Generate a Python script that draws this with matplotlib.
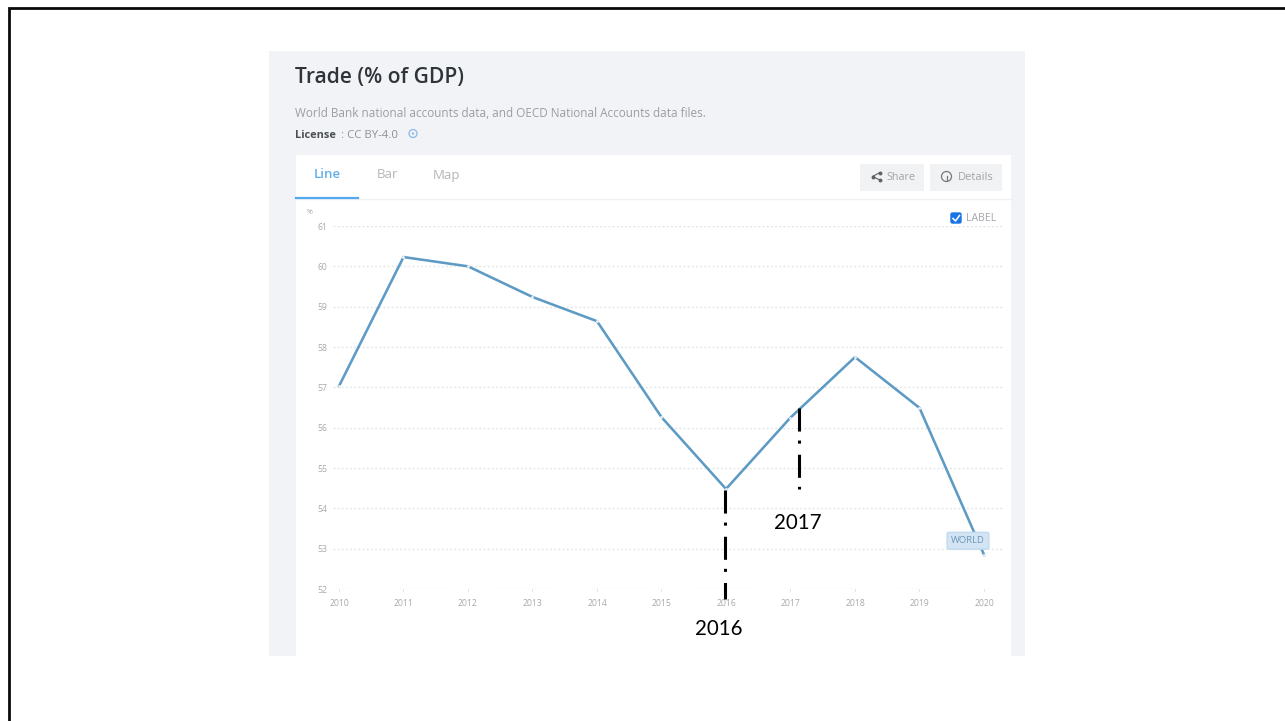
import matplotlib
matplotlib.use("Agg")
import matplotlib.pyplot as plt
from matplotlib.lines import Line2D
from matplotlib.patches import Rectangle, FancyBboxPatch, Circle

years = [2010, 2011, 2012, 2013, 2014, 2015, 2016, 2017, 2018, 2019, 2020]
trade_pct_gdp = [57.03, 60.23, 60.0, 59.24, 58.64, 56.26, 54.48, 56.25, 57.75, 56.49, 52.85]
y_ticks = [52, 53, 54, 55, 56, 57, 58, 59, 60, 61]
callout_years = ["2016", "2017"]

W, H = 1285, 721
plt.rcParams["font.family"] = ["Open Sans", "DejaVu Sans"]
plt.rcParams["lines.scale_dashes"] = False
fig = plt.figure(figsize=(W / 100, H / 100), dpi=100, facecolor="white")

# Page layer, addressed in pixels from the top left
page = fig.add_axes([0, 0, 1, 1], zorder=0)
page.set_xlim(0, W)
page.set_ylim(H, 0)
page.axis("off")

# Slide frame: left and top edges only
page.add_line(Line2D([8.9, 8.9, W], [H, 8.2, 8.2], color="#0a0a0a", lw=2.0, solid_joinstyle="miter"))

# Widget background and card
page.add_patch(Rectangle((269, 51), 756, 605, fc="#f1f3f7", ec="none"))
page.add_patch(Rectangle((296, 155), 715, 501, fc="white", ec="none"))
page.add_line(Line2D([296, 1011], [198.5, 198.5], color="#eef0f3", lw=1))
page.add_line(Line2D([296, 358], [197.5, 197.5], color="#55aaee", lw=1.6))

page.text(295, 83, "Trade (% of GDP)", fontsize=15.1, weight=600, color="#2e3438", va="baseline")
page.text(295, 117, "World Bank national accounts data, and OECD National Accounts data files.",
          fontsize=8.5, color="#9a9ea3", va="baseline")
page.text(295, 138, "License", fontsize=7.9, weight="bold", color="#4a4f54", va="baseline")
page.text(341, 138, ": CC BY-4.0", fontsize=8.2, color="#8d9196", va="baseline")
page.add_patch(Circle((413, 133.5), 4, fc="none", ec="#8db8e8", lw=0.9))
page.add_patch(Circle((413, 133.5), 1.2, fc="#8db8e8", ec="none"))

page.text(327, 178.5, "Line", fontsize=9.5, weight=600, color="#62aeea", va="baseline", ha="center")
page.text(387, 178.5, "Bar", fontsize=9.5, color="#b2b5b8", va="baseline", ha="center")
page.text(446, 178.5, "Map", fontsize=9.5, color="#b2b5b8", va="baseline", ha="center")

# Toolbar buttons
page.add_patch(Rectangle((860, 164), 64, 27, fc="#f1f2f4", ec="none"))
page.add_patch(Rectangle((930, 164), 72, 27, fc="#f1f2f4", ec="none"))
page.add_line(Line2D([880, 872.5, 880], [172.5, 176.5, 180], color="#5e6266", lw=0.8,
                     marker="o", markersize=1.8))
page.text(886, 180, "Share", fontsize=7.8, color="#a0a3a6", va="baseline")
page.add_patch(Circle((946.5, 176.5), 5, fc="none", ec="#75787c", lw=0.9))
page.add_line(Line2D([946.5, 946.5], [175.5, 179.5], color="#75787c", lw=0.9))
page.text(958, 180, "Details", fontsize=8.0, color="#a0a3a6", va="baseline")

# LABEL checkbox
page.add_patch(FancyBboxPatch((951, 213), 10, 10, boxstyle="round,pad=0,rounding_size=1.5",
                              fc="#1873e6", ec="#1873e6", lw=1))
page.add_line(Line2D([953, 955.5, 959.5], [218.5, 221, 215.5], color="white", lw=1.1))
page.text(966, 221, "LABEL", fontsize=7.6, color="#a3a6a9", va="baseline")
page.text(310, 212, "%", fontsize=5, color="#a8a8a8", va="center", ha="center")

# Line chart layer
left, right, top, bottom = 333, 1003, 226, 589
x_per_year = (984 - 339) / 10
chart = fig.add_axes([left / W, 1 - bottom / H, (right - left) / W, (bottom - top) / H],
                     zorder=1, facecolor="none")
chart.set_xlim(2010 + (left - 339) / x_per_year, 2010 + (right - 339) / x_per_year)
chart.set_ylim(52, 61)
for spine in chart.spines.values():
    spine.set_visible(False)
chart.set_xticks(years, [str(y) for y in years])
chart.set_yticks(y_ticks)
chart.tick_params(axis="x", length=1.5, width=0.5, color="#c9c9c9", labelsize=6.2,
                  labelcolor="#a9a9a9", pad=6)
chart.tick_params(axis="y", length=0, labelsize=6.2, labelcolor="#a9a9a9", pad=4)
chart.grid(axis="y", color="#e2e3e4", lw=1.0, linestyle=(0, (1.3, 1.7)))
chart.set_axisbelow(True)
chart.plot(years, trade_pct_gdp, color="#5d9ac4", lw=1.85, clip_on=False,
           solid_joinstyle="round", marker="o", markersize=2.2,
           markerfacecolor="#dfeaf3", markeredgecolor="none")
chart.annotate("WORLD", xy=(years[-1], trade_pct_gdp[-1]), xytext=(-16, 14),
               textcoords="offset pixels", ha="center", va="center", fontsize=6.8,
               color="#6d96b8", annotation_clip=False, zorder=5,
               bbox=dict(boxstyle="round,pad=0.42,rounding_size=0.2",
                         fc="#d3e5f4", ec="#bcd8ee", lw=0.9))

# Hand-drawn callouts on top of everything
marks = fig.add_axes([0, 0, 1, 1], zorder=2, facecolor="none")
marks.set_xlim(0, W)
marks.set_ylim(H, 0)
marks.axis("off")
dash_dot = (0, (16.6, 6.5, 2.2, 8.0))
marks.add_line(Line2D([725, 725], [490, 599], color="black", lw=2.2, linestyle=dash_dot,
                      dash_capstyle="butt"))
marks.add_line(Line2D([798.7, 798.7], [408, 489], color="black", lw=2.2, linestyle=dash_dot,
                      dash_capstyle="butt"))
marks.text(719, 629, callout_years[0], fontsize=14.8, family=["Lato", "DejaVu Sans"],
           color="black", ha="center", va="center")
marks.text(798, 523, callout_years[1], fontsize=14.8, family=["Lato", "DejaVu Sans"],
           color="black", ha="center", va="center")

fig.savefig("out.png", dpi=100)
